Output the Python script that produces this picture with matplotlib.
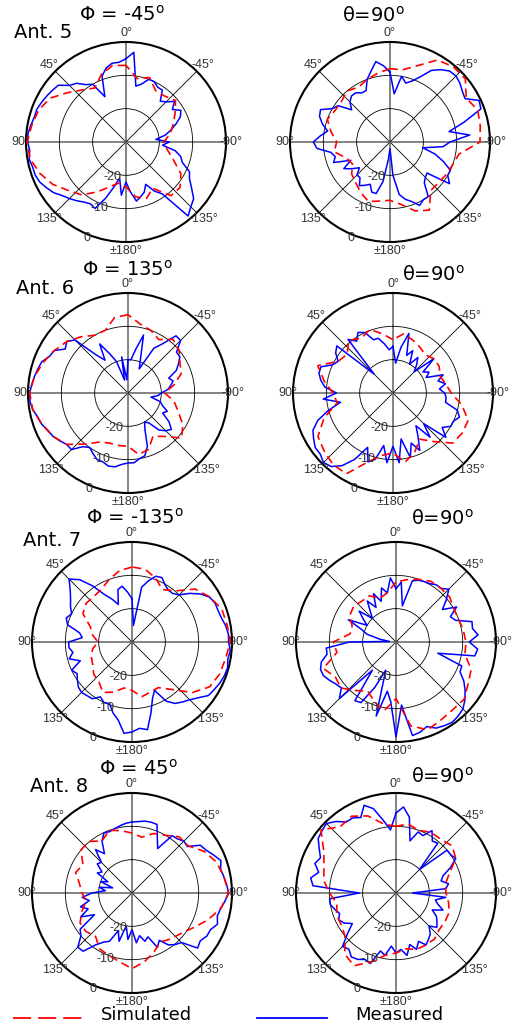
import numpy as np
import matplotlib
matplotlib.use('Agg')
import matplotlib.pyplot as plt
from matplotlib.lines import Line2D

# ---------------- data (dB, angle ccw from top, degrees) ----------------
ang_meas = np.arange(0, 360, 5)
ang_sim = np.arange(0, 360, 10)

ant5_phi_meas = [-5, -6, -6, -7, -9, -15, -10, -9, -7, -6, -3.5, -3, -2.5, -2, -1.5, -1.5, -1, -0.5,
                 -0.5, -1, -0.5, -1, -1, -1.5, -2.5, -3.5, -5, -6, -7, -8, -8.6, -8, -12, -16, -19, -14,
                 -18, -15, -12, -13, -14, -16, -13, -11, -1, -2.5, -3.5, -6, -8, -9, -12, -13, -15, -19,
                 -17, -21, -18, -16, -14, -12, -11, -13, -11, -13, -14, -11, -11, -10, -10, -12, -13, -3]
ant5_phi_sim = [-7, -6.7, -8.4, -11.3, -9.6, -7, -3.7, -2.1, -1.3, -0.3, -0.8, -2.5, -4.6, -7.4, -9.3, -12.7,
                -15.7, -17.5, -16.5, -13.3, -12, -14, -9, -8.8, -11, -15, -17.5, -18.7, -16.6, -15, -13, -10.6,
                -12, -12.2, -9.4, -10.7]

ant5_theta_meas = [-9, -7, -5.5, -8, -10, -13, -13, -12, -12, -13, -15, -11, -10, -7, -7.5, -9, -11, -9,
                   -7, -8, -12, -13, -12, -17, -14, -16, -18, -16, -16, -14, -15, -16, -14, -14, -18, -25,
                   -28, -20, -14, -12.2, -11, -9, -10, -10, -14, -15, -15.5, -8.2, -10, -10, -13, -16, -20, -14,
                   -12, -6, -12, -7, -1, -0.5, -4, -3.5, -2.6, -2, -2.2, -3.5, -5.2, -8.4, -10.5, -11.7, -10, -15.5]
ant5_theta_sim = [-8, -9, -10, -11, -10, -11, -11, -10, -12, -14, -13, -16, -17, -15, -14, -12.5, -11, -12,
                  -12.5, -11, -8, -6.4, -11, -11, -10.5, -10, -9, -3, -2.5, -2, -3.6, -0.5, -0.5, -1.6, -5.6, -8]

ant6_phi_meas = [-20, -26, -19, -26, -20, -17, -13, -18, -15, -7.5, -6, -7, -4.5, -4, -2.5, -2, -1.5, -1,
                 -0.5, -0.5, -1, -2, -2.5, -3.5, -4, -5, -6, -6, -9, -10, -9, -8, -8, -7.3, -7.5, -8.5,
                 -9, -9, -10, -10.5, -13, -18, -20, -19, -15.5, -14, -13, -15, -18, -17, -19, -20, -23, -21,
                 -20, -18, -17, -16, -17, -14, -12.5, -11, -11, -7.7, -7.6, -12, -14.5, -22, -19, -12, -16.7, -20]
ant6_phi_sim = [-6.5, -7, -10, -10, -8, -6, -4.5, -3, -1.5, -0.5, -1, -2.5, -4, -6, -10, -13, -14, -14,
                -14, -11.3, -12, -15, -13, -9, -11, -14, -16, -19, -16, -13, -12, -10, -9, -11.5, -10, -9]

ant6_theta_meas = [-16, -17, -15, -13, -13, -10, -9, -11, -9, -22, -8, -9, -11, -10, -7, -7, -8, -9.5,
                   -13, -9, -14, -10, -6, -3.5, -2.5, -1.5, -1.5, -0.5, -1.2, -3.4, -7, -12, -8, -9.4, -14, -9,
                   -14, -9, -16, -10, -14, -11, -15, -18, -12.7, -17, -9.3, -12, -10, -10, -8.8, -10, -14, -14,
                   -14.5, -16, -14, -16, -14, -19, -17.5, -19, -14, -21, -19, -17, -20, -16, -18, -11.5, -16, -21]
ant6_theta_sim = [-14, -12, -9.7, -11, -9.4, -12, -11, -6, -9, -12, -13, -8, -4, -3, -2, -2, -8, -11,
                  -12, -9, -11, -14, -11, -6.6, -6, -6, -9, -12.5, -14, -15, -14, -14, -15, -14, -13, -12]

ant7_phi_meas = [-17, -15, -13, -13.7, -18, -15.8, -13.6, -9.5, -5.6, -3.3, -5.8, -7.5, -8.7, -10, -9, -10, -14, -15,
                 -11, -11, -12, -10.5, -13.5, -10, -11, -10, -9, -8.6, -9, -9.2, -11, -10, -10.3, -8, -6.2, -2.5,
                 -3, -4, -3.3, -8, -12, -14, -9.5, -7.5, -6.5, -5.5, -4, -2, -1.5, -0.9, -0.5, -0.3, -0.8, -0.4,
                 -1, -1, -1.5, -2.2, -2.5, -2.5, -3.1, -4.9, -7.3, -10, -11, -11, -10.2, -8.7, -9, -11, -13.3, -25]
ant7_phi_sim = [-7.5, -8.3, -10, -11.7, -12.2, -12, -13, -16.7, -18, -19.8, -18, -17, -16.4, -15, -14.5, -12.5,
                -14, -16, -15.5, -13.3, -14, -14.2, -11.4, -6.4, -3.1, -2, -1.5, -0.5, -1, -1.3, -3, -5.3,
                -10, -11.8, -9.5, -7.8]

ant7_theta_meas = [-14, -10.7, -15, -13.2, -17, -14, -18, -15, -18, -20, -15.6, -18, -20, -14.2, -19, -21, -25, -28,
                   -16, -9, -9, -6.8, -5.9, -6, -7, -8, -8.6, -6, -19, -8.5, -9, -15, -21, -7, -15, -12,
                   -1.5, -11, -1.5, -2, -3, -1.5, -1, -0.6, -1, -1.6, -3, -4.7, -6.5, -8.8, -9, -17, -6, -5.4,
                   -8, -5.3, -6.7, -6.4, -11, -12, -9, -13, -10.3, -7.6, -9, -9, -9.8, -10, -10.3, -11, -19, -12]
ant7_theta_sim = [-12, -15, -16, -14, -14, -13.4, -14, -16, -16, -11.2, -12, -6.8, -9, -8.5, -11, -13, -11, -9,
                  -13, -4.4, -2, -3, -3.5, -3.3, -5, -6, -9, -9, -9.5, -10, -10, -9, -9, -9, -10, -11]

ant8_phi_meas = [-8.7, -9, -9.5, -10, -10.4, -10.1, -12, -15.6, -13, -17, -16.4, -19, -18, -22, -20, -24, -20, -22,
                 -18, -15, -17, -14, -16, -13, -17, -11, -10, -7, -7.2, -11, -13, -14, -18, -15, -20, -16,
                 -19, -15, -17, -15, -16, -12, -13.6, -11, -9.8, -9, -4.3, -5, -4.1, -4, -2.7, -3.5, -3, -2,
                 -1, -1.5, -2, -2.5, -1.6, -3, -4.3, -5, -8.3, -8, -8.8, -9, -14.6, -12, -8.1, -8, -8.1, -8.5]
ant8_phi_sim = [-12, -11, -10, -12, -9.8, -10, -13, -12, -14, -15, -16, -14, -12, -12, -13, -10.6, -10, -9,
                -7.3, -9, -11, -13, -12, -11, -9, -6, -3, -1, -2, -3, -5, -8, -8, -10, -11, -13]

ant8_theta_meas = [-6, -11, -7.8, -3.8, -2, -5, -4, -4, -2, -0.5, -1, -1.5, -3.4, -5, -4.1, -6, -4, -5,
                   -19, -10, -10, -11, -12, -11, -12, -14, -11, -7.3, -8, -6.6, -7, -8, -7.5, -12, -11, -14,
                   -12, -13, -11, -14, -12, -14, -12, -13, -14, -16, -14, -15, -16, -18, -15, -17, -18, -15,
                   -25, -15, -14, -16, -15, -12, -9.3, -10, -10, -20, -10.5, -11, -8.4, -11, -10.5, -13.8, -6.9, -4.1]
ant8_theta_sim = [-10, -9, -5.4, -3.4, -4, -0.6, -5, -7, -8, -10, -12, -11, -11, -10, -6.1, -4.8, -8, -11,
                  -12, -13, -12, -12, -12, -13, -13, -13, -14, -15, -15, -13, -9.3, -8, -9, -9, -10, -9]

angle_labels = ['0°', '45°', '90°', '135°', '±180°', '-135°', '-90°', '-45°']
r_ticks = [-20, -10, 0]
r_tick_labels = ['-20', '-10', '0']

phi_titles = ['Φ = -45$^{\\rm o}$', 'Φ = 135$^{\\rm o}$', 'Φ = -135$^{\\rm o}$', 'Φ = 45$^{\\rm o}$']
theta_title = 'θ=90$^{\\rm o}$'
ant_labels = ['Ant. 5', 'Ant. 6', 'Ant. 7', 'Ant. 8']
legend_labels = ['Simulated', 'Measured']

# ---------------- layout ----------------
W, H = 514, 1028
R = 100
fig = plt.figure(figsize=(W / 100, H / 100), dpi=100)
fig.patch.set_facecolor('white')

left_centers = [(126, 142), (128, 393), (132, 642), (132, 893)]
right_centers = [(390, 142), (393, 393), (396, 642), (396, 893)]
phi_title_pos = [(122, 15), (128, 270), (135, 518), (138, 769)]
ant_pos = [(43, 33), (45, 289), (52, 541), (59, 787)]
theta_title_pos = [(373, 16), (433, 275), (442, 519), (442, 777)]

data_left = [(ant5_phi_meas, ant5_phi_sim), (ant6_phi_meas, ant6_phi_sim),
             (ant7_phi_meas, ant7_phi_sim), (ant8_phi_meas, ant8_phi_sim)]
data_right = [(ant5_theta_meas, ant5_theta_sim), (ant6_theta_meas, ant6_theta_sim),
              (ant7_theta_meas, ant7_theta_sim), (ant8_theta_meas, ant8_theta_sim)]

TICKFONT = dict(family='Liberation Sans', fontsize=9, color='#333333')


def closed(ang, vals):
    a = np.radians(np.append(ang, ang[0]))
    v = np.append(np.asarray(vals, float), vals[0])
    return a, v


def make_polar(cx, cy, meas, sim):
    ax = fig.add_axes([(cx - R) / W, (H - cy - R) / H, 2 * R / W, 2 * R / H], projection='polar')
    ax.set_theta_zero_location('N')
    ax.set_theta_direction(1)
    ax.set_ylim(-30, 0)
    ax.set_xticks(np.radians(np.arange(0, 360, 45)))
    ax.set_xticklabels([])
    ax.set_yticks([-20, -10])
    ax.set_yticklabels([])
    ax.tick_params(length=0)
    ax.grid(True)
    for i, gl in enumerate(ax.xaxis.get_gridlines()):
        if i % 2 == 0:
            gl.set_color('#7a7a7a')
            gl.set_linewidth(1.3)
        else:
            gl.set_color('black')
            gl.set_linewidth(0.6)
        gl.set_linestyle('-')
    for gl in ax.yaxis.get_gridlines():
        gl.set_color('black')
        gl.set_linewidth(0.6)
        gl.set_linestyle('-')
    ax.spines['polar'].set_linewidth(1.5)
    ax.spines['polar'].set_color('black')
    ax.set_facecolor('none')

    am, vm = closed(ang_meas, meas)
    a_s, vs = closed(ang_sim, sim)
    ax.plot(am, vm, color='#0000ff', lw=1.1, zorder=3)
    ax.plot(a_s, vs, color='#ff0000', lw=1.2, dashes=(5, 3), zorder=4)

    for k, lab in enumerate(angle_labels):
        a = np.radians(45 * k)
        f = 0.525 if k in (2, 6) else 0.545
        ax.text(0.5 - f * np.sin(a), 0.5 + 0.545 * np.cos(a), lab, transform=ax.transAxes,
                ha='center', va='center', clip_on=False, **TICKFONT)
    for t, lab in zip(r_ticks, r_tick_labels):
        ax.text(np.radians(158), t + 1.2, lab, ha='center', va='center', clip_on=False,
                zorder=5, **TICKFONT)
    return ax


for i in range(4):
    make_polar(*left_centers[i], *data_left[i])
    make_polar(*right_centers[i], *data_right[i])
    fig.text(phi_title_pos[i][0] / W, 1 - phi_title_pos[i][1] / H, phi_titles[i],
             ha='center', va='center', fontsize=14, family='DejaVu Sans')
    fig.text(ant_pos[i][0] / W, 1 - ant_pos[i][1] / H, ant_labels[i],
             ha='center', va='center', fontsize=14, family='DejaVu Sans')
    fig.text(theta_title_pos[i][0] / W, 1 - theta_title_pos[i][1] / H, theta_title,
             ha='center', va='center', fontsize=14, family='DejaVu Sans')

# legend
ly = 1 - 1018 / H
fig.add_artist(Line2D([13 / W, 82 / W], [ly, ly], transform=fig.transFigure,
                      color='#ff0000', lw=1.3, dashes=(10, 3.9)))
fig.text(146 / W, 1 - 1015 / H, legend_labels[0], ha='center', va='center', fontsize=13,
         family='DejaVu Sans')
fig.add_artist(Line2D([257 / W, 327 / W], [ly, ly], transform=fig.transFigure,
                      color='#0000ff', lw=1.3))
fig.text(399 / W, 1 - 1015 / H, legend_labels[1], ha='center', va='center', fontsize=13,
         family='DejaVu Sans')

fig.savefig('out.png', dpi=100)
